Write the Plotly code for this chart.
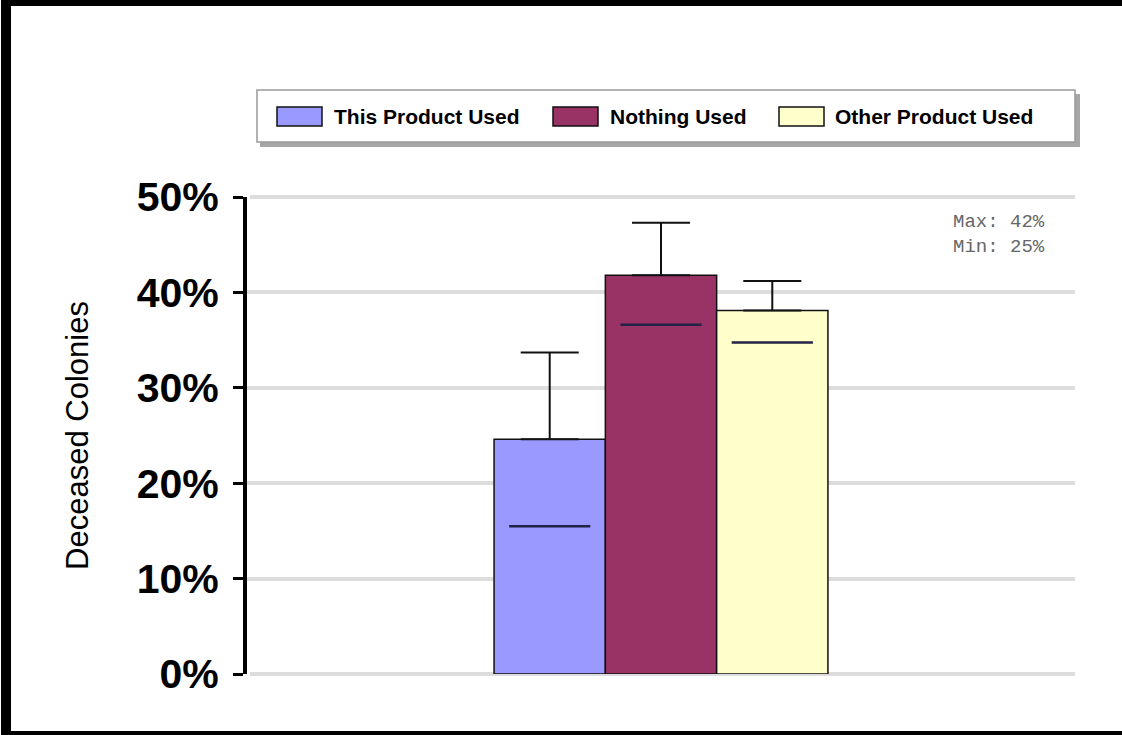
import plotly.graph_objects as go

# ---------------- data ----------------
series = ["This Product Used", "Nothing Used", "Other Product Used"]
values = [24.6, 41.8, 38.1]          # % deceased colonies
err_up = [9.1, 5.5, 3.1]             # upper error
err_down = [9.1, 5.2, 3.35]          # lower error
colors = ["#9999ff", "#993366", "#ffffcc"]
y_ticks = [0, 10, 20, 30, 40, 50]
y_labels = ["0%", "10%", "20%", "30%", "40%", "50%"]
axis_title = "Deceased Colonies"

# ---------------- layout geometry ----------------
W, H = 1122, 735
L, R, T, B = 247, 47, 197, 61
PW, PH = W - L - R, H - T - B


def px(x):
    return (x - L) / PW


def py(y):
    return (H - B - y) / PH


SANS = "Liberation Sans, Arial, sans-serif"
MONO = "Liberation Mono, Courier New, monospace"

fig = go.Figure()

for i, (name, v, u, d, c) in enumerate(zip(series, values, err_up, err_down, colors)):
    xpos = i - 1
    fig.add_trace(go.Bar(
        x=[xpos], y=[v], width=1, name=name,
        marker=dict(color=c, line=dict(color="#111111", width=1.5)),
        error_y=dict(type="data", symmetric=False, array=[u], arrayminus=[0],
                     color="#111111", thickness=2, width=29),
        showlegend=False, hoverinfo="skip",
    ))
    fig.add_trace(go.Scatter(
        x=[xpos], y=[v - d], mode="markers", showlegend=False, hoverinfo="skip",
        marker=dict(symbol="line-ew", size=58, color="#222222",
                    line=dict(color="#222244", width=2.5)),
    ))

shapes = []
annotations = []

# gridlines at the range edges (plotly skips them): paper y 0 and 1 are the range ends
for yp in (0, 1):
    shapes.append(dict(type="line", xref="paper", yref="paper", x0=px(250), x1=1, y0=yp, y1=yp,
                       line=dict(color="#dddddd", width=4), layer="below"))

# outer frame
shapes += [
    dict(type="rect", xref="paper", yref="paper", x0=px(1), x1=px(11), y0=py(0), y1=py(735),
         fillcolor="black", line=dict(width=0)),
    dict(type="rect", xref="paper", yref="paper", x0=px(1), x1=px(1125), y0=py(0), y1=py(6),
         fillcolor="black", line=dict(width=0)),
    dict(type="rect", xref="paper", yref="paper", x0=px(1), x1=px(1125), y0=py(731), y1=py(736),
         fillcolor="black", line=dict(width=0)),
]

# legend box with shadow
shapes += [
    dict(type="rect", xref="paper", yref="paper", x0=px(260), x1=px(1080), y0=py(94), y1=py(147),
         fillcolor="rgba(0,0,0,0.35)", line=dict(width=0)),
    dict(type="rect", xref="paper", yref="paper", x0=px(257), x1=px(1075), y0=py(90), y1=py(142),
         fillcolor="white", line=dict(color="#999999", width=1.5)),
]
sw_left = [277, 553, 779]
txt_left = [332, 608, 833]
for name, c, sx, tx in zip(series, colors, sw_left, txt_left):
    shapes.append(dict(type="rect", xref="paper", yref="paper", x0=px(sx), x1=px(sx + 45),
                       y0=py(107), y1=py(126), fillcolor=c, line=dict(color="#111111", width=1.5)))
    annotations.append(dict(xref="paper", yref="paper", x=px(tx), y=py(116.5), text="<b>%s</b>" % name,
                            showarrow=False, xanchor="left", yanchor="middle",
                            font=dict(family=SANS, size=21, color="black")))

# max / min note
annotations.append(dict(xref="paper", yref="paper", x=px(1047), y=py(234.5),
                        text="Max: %.0f%%<br>Min: %.0f%%" % (max(values), min(values)),
                        showarrow=False, xanchor="right", yanchor="middle", align="left",
                        font=dict(family=MONO, size=19, color="#666666")))

fig.update_layout(
    width=W, height=H,
    margin=dict(l=L, r=R, t=T, b=B, autoexpand=False),
    paper_bgcolor="white", plot_bgcolor="white",
    barmode="overlay",
    shapes=shapes, annotations=annotations,
    xaxis=dict(range=[-3.72, 3.72], showgrid=False, zeroline=False, showticklabels=False,
               showline=False, ticks="", fixedrange=True),
    yaxis=dict(range=[0, 50], tickvals=y_ticks, ticktext=y_labels,
               tickfont=dict(family=SANS, size=41, color="black", weight="bold"),
               showline=True, linewidth=4, linecolor="black",
               ticks="outside", ticklen=10, tickwidth=3, tickcolor="black",
               showgrid=True, gridcolor="#dddddd", gridwidth=4, zeroline=False,
               ticklabelstandoff=6, fixedrange=True,
               title=dict(text=axis_title, font=dict(family=SANS, size=31, color="black"), standoff=40)),
)

fig.write_html("out.html", config={"displayModeBar": False},
               post_script="document.body.style.margin='0';")
